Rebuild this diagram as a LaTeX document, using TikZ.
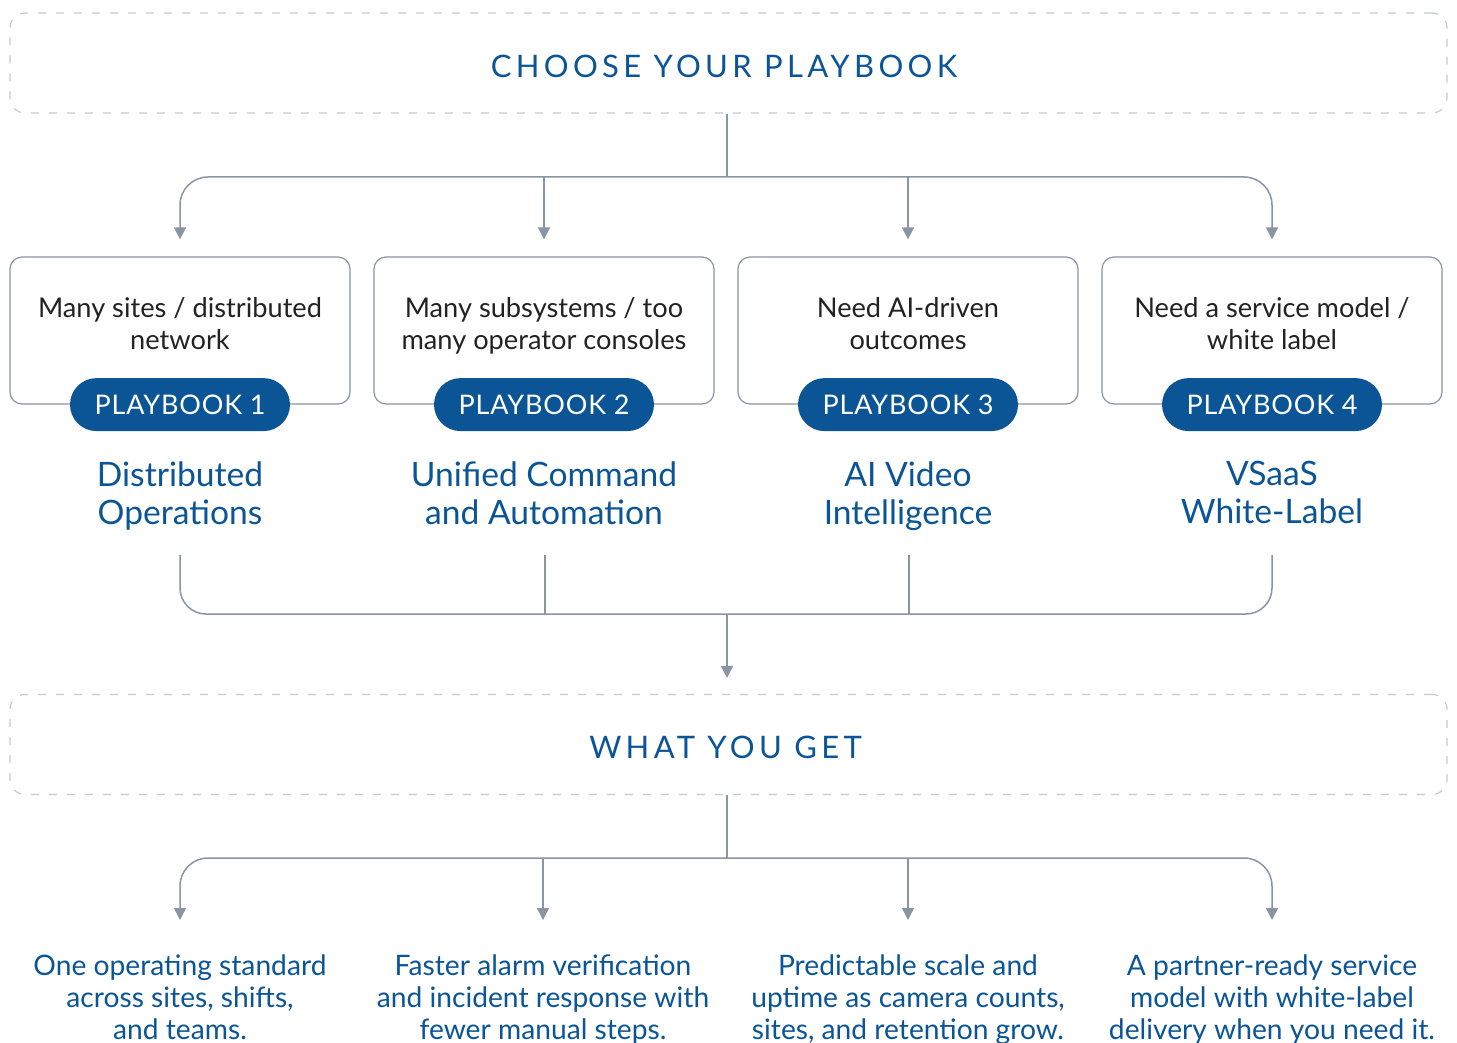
\documentclass[tikz,border=0pt]{standalone}
\usepackage{fontspec}
\setmainfont{Lato}
\usetikzlibrary{positioning,calc,arrows.meta}
\definecolor{pbblue}{HTML}{0B5596}
\definecolor{linegray}{HTML}{8A94A3}
\definecolor{dashgray}{HTML}{C5CAD1}
\definecolor{textdark}{HTML}{222222}

\begin{document}
\begin{tikzpicture}[x=0.5pt,y=-0.5pt,%
      banner/.style={draw=dashgray,line width=0.6pt,dash pattern=on 4pt off 5pt,rounded corners=7.5pt,%
        minimum width=718.5pt,minimum height=50pt,text=pbblue,text height=14.1pt,text depth=0pt,%
        font=\fontsize{15.5}{18}\selectfont\addfontfeatures{LetterSpace=14}},%
      card/.style={draw=linegray,line width=0.6pt,rounded corners=6pt,minimum width=170pt,minimum height=73.5pt},%
      struts/.style={execute at begin node=\strut,execute at end node=\strut},%
      need/.style={struts,align=center,text=textdark,font=\fontsize{13.6}{16}\selectfont},%
      pill/.style={fill=pbblue,text=white,rounded corners=13.25pt,minimum width=110pt,minimum height=26.5pt,%
        font=\fontsize{13.5}{15}\selectfont\addfontfeatures{LetterSpace=3}},%
      title/.style={struts,align=center,text=pbblue,font=\fontsize{16.8}{19}\selectfont},%
      gain/.style={struts,align=center,text=pbblue,font=\fontsize{14.1}{16}\selectfont},%
      link/.style={draw=linegray,line width=0.75pt},%
      arrow/.style={link,-{Triangle[width=6pt,length=6pt]}}]
      \useasboundingbox (0,0) rectangle (1457,1043);

      % % Top banner
      \node[banner] (choose) at (728.5,63) {CHOOSE YOUR PLAYBOOK\kern4.5pt};
      \coordinate (fork) at (727,177);

      % % Cards
      \node[card] (card1) at (180,330.5) {};
      \node[card] (card2) at (544,330.5) {};
      \node[card] (card3) at (908,330.5) {};
      \node[card] (card4) at (1272,330.5) {};
      \node[need] (need1) at (180,328.6) {Many sites / distributed\\network};
      \node[need] (need2) at (544,328.6) {Many subsystems / too\\many operator consoles};
      \node[need] (need3) at (908,328.6) {Need AI-driven\\outcomes};
      \node[need] (need4) at (1272,328.6) {Need a service model /\\white label};
      \node[pill] (pb1) at (card1.south) {PLAYBOOK 1};
      \node[pill] (pb2) at (card2.south) {PLAYBOOK 2};
      \node[pill] (pb3) at (card3.south) {PLAYBOOK 3};
      \node[pill] (pb4) at (card4.south) {PLAYBOOK 4};
      \node[title] (name1) at (180,498.4) {Distributed\\Operations};
      \node[title] (name2) at (544,498.4) {Unified Command\\and Automation};
      \node[title] (name3) at (908,498.4) {AI Video\\Intelligence};
      \node[title] (name4) at (1272,498.4) {VSaaS\\White-Label};

      % % Fork to cards
      \draw[link] (fork |- choose.south) -- (fork);
      \draw[arrow,rounded corners=14pt,shorten >=8.5pt] (fork) -| (card1.north);
      \draw[arrow,rounded corners=14pt,shorten >=8.5pt] (fork) -| (card4.north);
      \draw[arrow,shorten >=8.5pt] (fork -| card2.north) -- (card2.north);
      \draw[arrow,shorten >=8.5pt] (fork -| card3.north) -- (card3.north);

      % % Merge
      \node[banner] (get) at (728.5,744.5) {WHAT YOU GET\kern3pt};
      \coordinate (join) at (727,614);
      \coordinate (drop1) at (180,555);
      \coordinate (drop2) at (545,555);
      \coordinate (drop3) at (909,555);
      \coordinate (drop4) at (1272,555);
      \draw[link,rounded corners=13pt] (drop1) |- (join) -| (drop4);
      \draw[link] (drop2) -- (drop2 |- join);
      \draw[link] (drop3) -- (drop3 |- join);
      \draw[arrow,shorten >=8pt] (join) -- (join |- get.north);

      % Bottom level
      \coordinate (fork2) at (727,858);
      \coordinate (tip1) at (180,920);
      \coordinate (tip2) at (543,920);
      \coordinate (tip3) at (908,920);
      \coordinate (tip4) at (1272,920);
      \draw[link] (fork2 |- get.south) -- (fork2);
      \draw[arrow,rounded corners=14pt] (fork2) -| (tip1);
      \draw[arrow,rounded corners=14pt] (fork2) -| (tip4);
      \draw[arrow] (fork2 -| tip2) -- (tip2);
      \draw[arrow] (fork2 -| tip3) -- (tip3);
      \node[gain] (gain1) at (180,1001.6) {One operating standard\\across sites, shifts,\\and teams.};
      \node[gain] (gain2) at (543,1001.6) {Faster alarm verification\\and incident response with\\fewer manual steps.};
      \node[gain] (gain3) at (908,1001.6) {Predictable scale and\\uptime as camera counts,\\sites, and retention grow.};
      \node[gain] (gain4) at (1272,1001.6) {A partner-ready service\\model with white-label\\delivery when you need it.};
  \end{tikzpicture}
\end{document}
